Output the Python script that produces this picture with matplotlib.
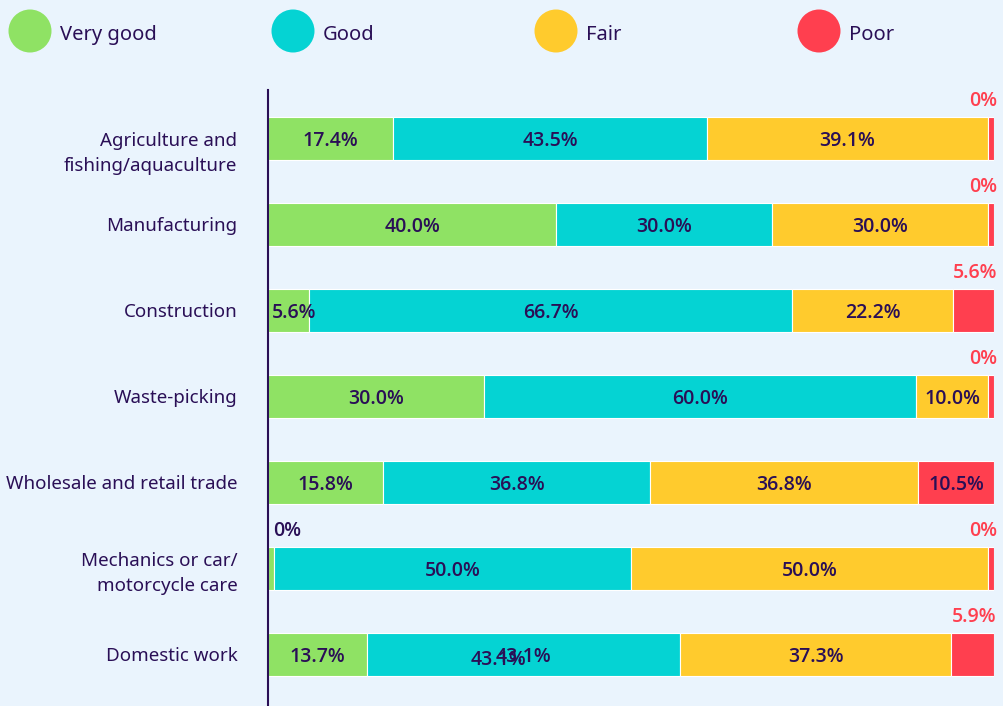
import matplotlib
matplotlib.use("Agg")
import matplotlib.pyplot as plt
from matplotlib.patches import Circle
from matplotlib import transforms, font_manager
import numpy as np

plt.rcParams['font.family'] = ['Noto Sans', 'DejaVu Sans']

categories = ["Agriculture and\nfishing/aquaculture", "Manufacturing", "Construction",
              "Waste-picking", "Wholesale and retail trade",
              "Mechanics or car/\nmotorcycle care", "Domestic work"]
series_names = ["Very good", "Good", "Fair", "Poor"]
very_good = [17.4, 40.0, 5.6, 30.0, 15.8, 0.0, 13.7]
good = [43.5, 30.0, 66.7, 60.0, 36.8, 50.0, 43.1]
fair = [39.1, 30.0, 22.2, 10.0, 36.8, 50.0, 37.3]
poor = [0.0, 0.0, 5.6, 0.0, 10.5, 0.0, 5.9]
colors = ["#8fe264", "#05d3d3", "#ffcb2d", "#ff3f4f"]

BG = "#eaf4fd"
DARK = "#2a0f56"
MIN_W = 0.8

# pick a family that really has a bold face
def bold_family():
    have = {}
    for f in font_manager.fontManager.ttflist:
        w = f.weight if isinstance(f.weight, int) else 400
        if isinstance(f.weight, str):
            w = {"bold": 700, "semibold": 600, "demibold": 600}.get(f.weight.lower(), 400)
        have.setdefault(f.name, set()).add(w)
    for fam in ["Noto Sans", "Open Sans", "Lato", "Inter", "Roboto", "DejaVu Sans"]:
        if fam in have and any(w >= 600 for w in have[fam]):
            return fam
    return "DejaVu Sans"

BFAM = bold_family()

vals = np.array([very_good, good, fair, poor]).T
disp = np.maximum(vals, MIN_W)
disp = disp / disp.sum(axis=1, keepdims=True) * 100
lefts = np.cumsum(disp, axis=1) - disp

fig = plt.figure(figsize=(10.04, 7.06), dpi=100, facecolor=BG)
ax = fig.add_axes([268 / 1004, 0, (994 - 268) / 1004, 616 / 706])
ax.set_facecolor(BG)

y = np.arange(len(categories))
for j, name in enumerate(series_names):
    ax.barh(y, disp[:, j], left=lefts[:, j], height=0.5, color=colors[j],
            edgecolor="white", linewidth=0.8, label=name)

ax.set_xlim(0, 100)
ax.set_ylim(6.6, -0.564)

def off(dx, dy):
    return ax.transData + transforms.ScaledTranslation(dx / 72, dy / 72, fig.dpi_scale_trans)

lab_kw = dict(fontsize=14, fontweight="semibold", family=[BFAM, "DejaVu Sans"])
for i in range(len(categories)):
    for j in range(len(series_names)):
        v = vals[i, j]
        l = lefts[i, j]
        w = disp[i, j]
        txt = f"{v:.1f}%" if v > 0 else "0%"
        if v == 0 or (j == 3 and v < 8):
            col = colors[3] if j == 3 else DARK
            if j == 3:
                ax.text(100, i - 0.25, txt, ha="right", va="bottom", color=col,
                        transform=off(2, 4), **lab_kw)
            else:
                ax.text(l, i - 0.25, txt, ha="left", va="bottom", color=col,
                        transform=off(4, 4), **lab_kw)
        elif v < 8:
            ax.text(l, i, txt, ha="left", va="center_baseline", color=DARK,
                    transform=off(3, 0), **lab_kw)
        else:
            ax.text(l + w / 2, i, txt, ha="center", va="center_baseline", color=DARK,
                    **lab_kw)

# duplicated overlapping label present in the reference (Domestic work, Good)
dup_row, dup_col = 6, 1
ax.text(lefts[dup_row, dup_col] + disp[dup_row, dup_col] / 2, dup_row,
        f"{vals[dup_row, dup_col]:.1f}%", ha="center", va="center_baseline", color=DARK,
        transform=off(-18, -2), **lab_kw)

ax.set_yticks(y)
ax.set_yticklabels(categories, fontsize=13.5, color=DARK, linespacing=1.5)
ax.tick_params(axis="y", length=0, pad=22)
# the first category label sits a little lower in the reference
tl0 = ax.get_yticklabels()[0]
tl0.set_transform(tl0.get_transform()
                  + transforms.ScaledTranslation(0, -10 / 100, fig.dpi_scale_trans))
ax.set_xticks([])
for s in ["top", "right", "bottom"]:
    ax.spines[s].set_visible(False)
ax.spines["left"].set_color(DARK)
ax.spines["left"].set_linewidth(1.5)

# legend
for k, name in enumerate(series_names):
    cx = 0.30 + k * 2.63
    cy = 7.06 - 0.31
    fig.add_artist(Circle((cx, cy), 0.215, transform=fig.dpi_scale_trans,
                          facecolor=colors[k], edgecolor="none"))
    fig.text((cx + 0.30) / 10.04, (7.06 - 0.35) / 7.06, name, fontsize=14.5,
             color=DARK, ha="left", va="center")

fig.savefig("out.png", dpi=100, facecolor=BG)
